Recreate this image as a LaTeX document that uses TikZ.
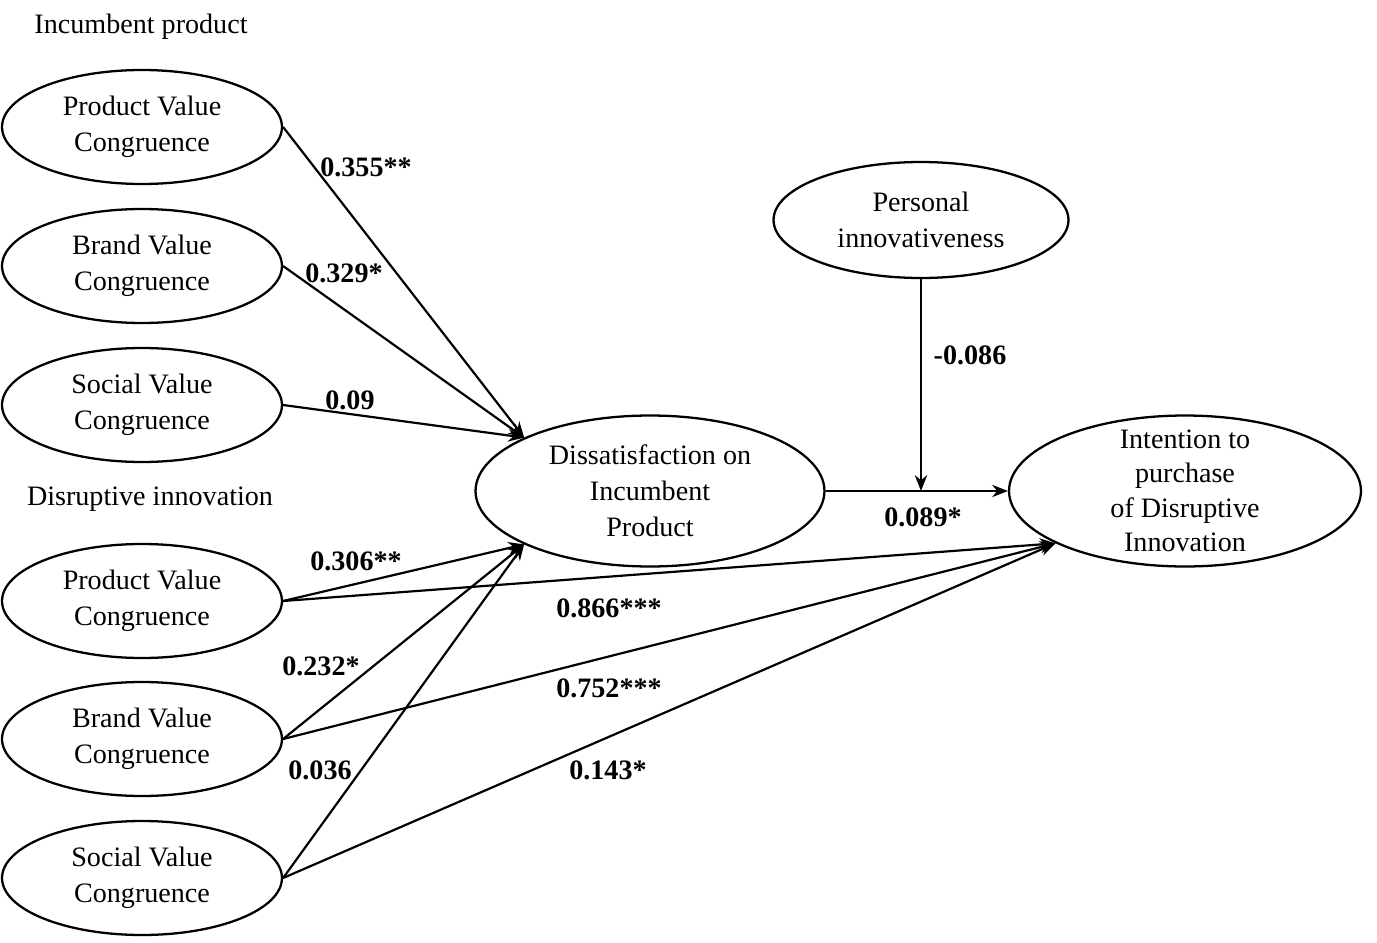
\documentclass[tikz,border=0pt]{standalone}
\usepackage{fontspec}
\setmainfont{Liberation Serif}
\usetikzlibrary{shapes.geometric, arrows.meta}
\tikzstyle{construct} = [ellipse, draw=black, line width=1.3pt, inner sep=0pt, align=center, font=\fontsize{16pt}{20.4pt}\selectfont]
\tikzstyle{smallc} = [construct, minimum width=5.6cm, minimum height=2.28cm]
\tikzstyle{bigc} = [construct, minimum width=6.98cm, minimum height=3.02cm]
\tikzstyle{heading} = [font=\fontsize{16pt}{20.4pt}\selectfont]
\tikzstyle{coef} = [font=\fontsize{16pt}{20.4pt}\selectfont\bfseries, inner sep=1pt]
\tikzstyle{arrow} = [line width=1.25pt,->,>={Stealth[length=9pt,width=7pt]}]

\begin{document}
\begin{tikzpicture}[x=0.02cm, y=-0.02cm]
				\useasboundingbox (0,0) rectangle (1377,943);
				
				\node (hinc) [heading] at (141,27) {Incumbent product};
				\node (hdis) [heading] at (150,499) {Disruptive innovation};
				
				\node (ipvc) [smallc] at (142,127) {Product Value\\Congruence};
				\node (ibvc) [smallc] at (142,266) {Brand Value\\Congruence};
				\node (isvc) [smallc] at (142,405) {Social Value\\Congruence};
				\node (dpvc) [smallc] at (142,601) {Product Value\\Congruence};
				\node (dbvc) [smallc] at (142,739) {Brand Value\\Congruence};
				\node (dsvc) [smallc] at (142,878) {Social Value\\Congruence};
				
				\node (dis) [bigc] at (650,491) {Dissatisfaction on\\Incumbent\\Product};
				\node (pinn) [smallc, minimum width=5.9cm, minimum height=2.32cm] at (921,220) {Personal\\innovativeness};
				\node (intent) [bigc, minimum width=7.04cm, inner ysep=-10pt, font=\fontsize{16pt}{19.6pt}\selectfont] at (1185,491) {Intention to\\purchase\\of Disruptive\\Innovation};
				
				\coordinate (mod) at (pinn.south |- dis.east);
				
				\draw [arrow] (ipvc.east) -- (dis.157);
				\draw [arrow] (ibvc.east) -- (dis.157);
				\draw [arrow] (isvc.east) -- (dis.157);
				\draw [arrow] (dpvc.east) -- (dis.203);
				\draw [arrow] (dbvc.east) -- (dis.203);
				\draw [arrow] (dsvc.east) -- (dis.203);
				\draw [arrow] (dpvc.east) -- (intent.202);
				\draw [arrow] (dbvc.east) -- (intent.202);
				\draw [arrow] (dsvc.east) -- (intent.202);
				\draw [arrow] (dis.east) -- (intent.west);
				\draw [arrow] (pinn.south) -- (mod);
				
				\node (c1) [coef] at (366,167) {0.355**};
				\node (c2) [coef] at (344,273) {0.329*};
				\node (c3) [coef] at (350,400) {0.09};
				\node (c4) [coef] at (356,561) {0.306**};
				\node (c5) [coef] at (321,666) {0.232*};
				\node (c6) [coef] at (320,770) {0.036};
				\node (c7) [coef] at (609,608) {0.866***};
				\node (c8) [coef] at (609,688) {0.752***};
				\node (c9) [coef] at (608,770) {0.143*};
				\node (c10) [coef] at (970,355) {-0.086};
				\node (c11) [coef] at (923,517) {0.089*};
				
\end{tikzpicture}
\end{document}
